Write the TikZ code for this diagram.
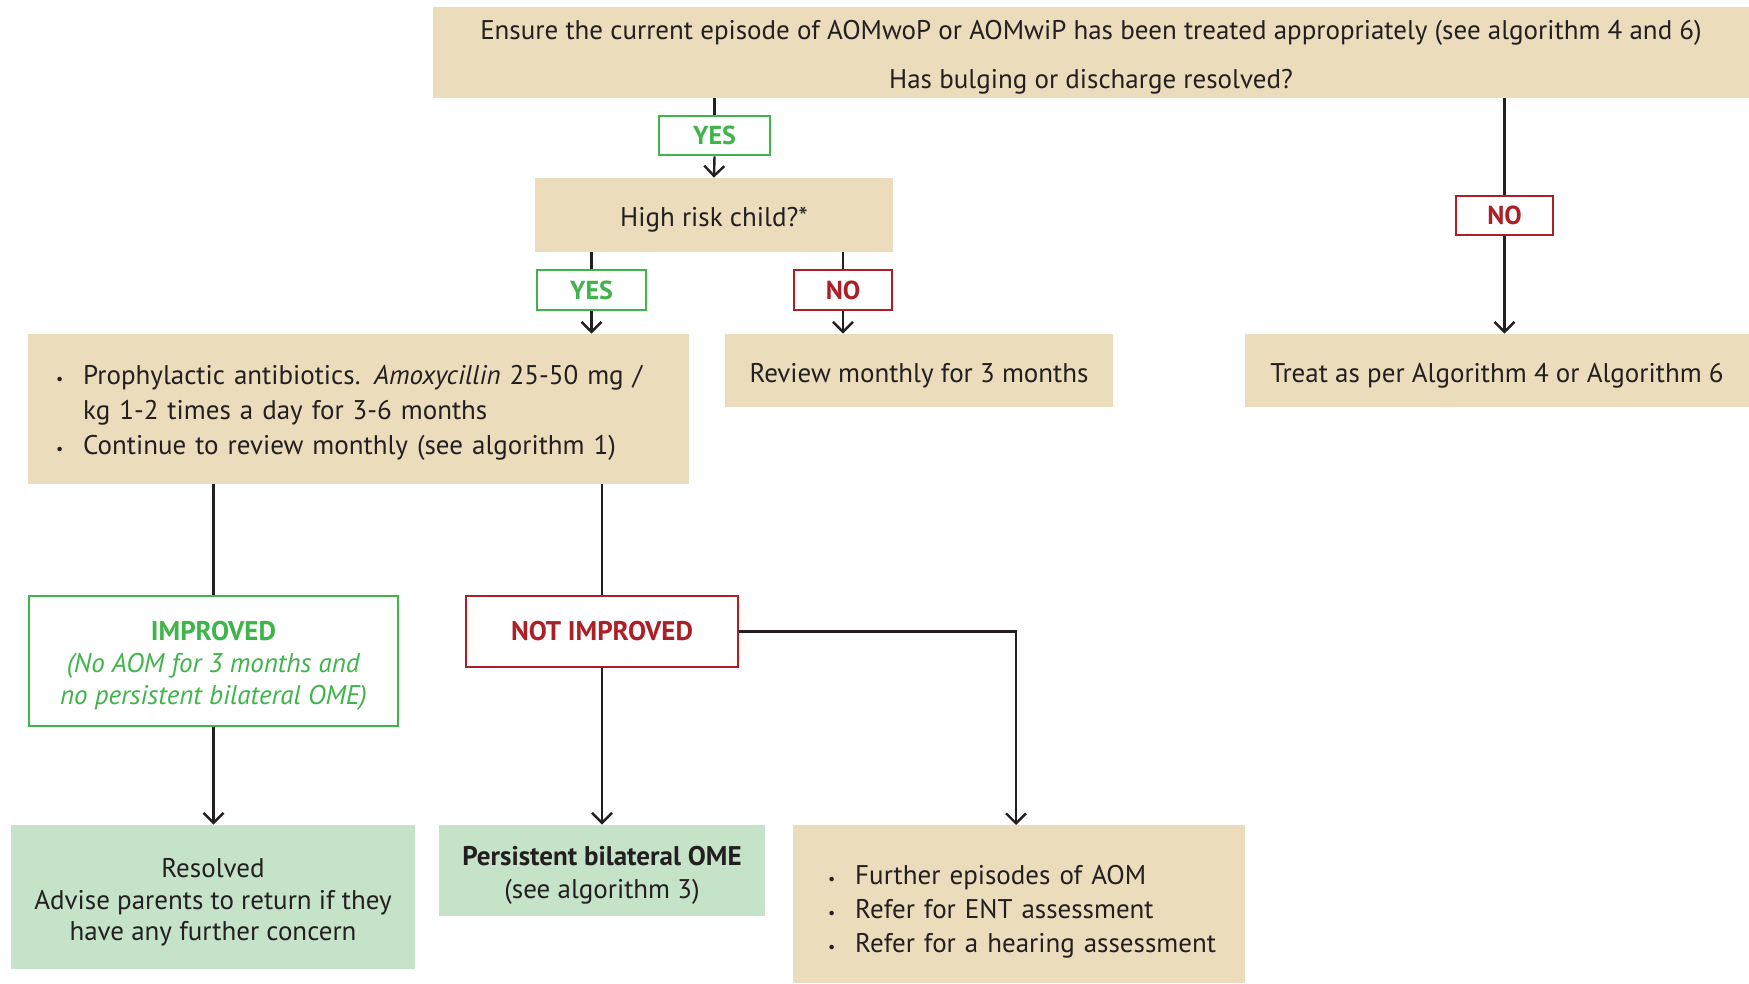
\documentclass[tikz,border=0pt]{standalone}
\usepackage{fontspec}
\setmainfont{PT Sans}
\usetikzlibrary{arrows.meta}
\definecolor{beige}{RGB}{235,220,187}
\definecolor{lgreen}{RGB}{197,227,200}
\definecolor{dgreen}{RGB}{62,180,74}
\definecolor{dred}{RGB}{170,32,38}
\definecolor{ink}{RGB}{35,31,32}
\newcommand{\bul}{{\footnotesize\textbullet}}
\newcommand{\lo}{\rule{0pt}{14.8pt}}
\begin{document}
\begin{tikzpicture}[x=0.5pt,y=-0.5pt,
  font=\fontsize{13.5}{16.2}\selectfont,
  box/.style={fill=beige, draw=none, text=ink, inner sep=0pt, align=center},
  gbox/.style={fill=lgreen, draw=none, text=ink, inner sep=0pt, align=center},
  ylab/.style={draw=dgreen, line width=1.4pt, fill=white, text=dgreen, font=\fontsize{13}{15}\selectfont\bfseries, inner sep=0pt},
  nlab/.style={draw=dred, line width=1.4pt, fill=white, text=dred, font=\fontsize{13}{15}\selectfont\bfseries, inner sep=0pt},
  conn/.style={draw=ink, line width=1.2pt},
  arr/.style={conn, -{Straight Barb[length=5pt,width=10pt,line width=1.2pt]}}]
\useasboundingbox (0,0) rectangle (1749,984);

\node[box, minimum width=658pt, minimum height=45.5pt] (top) at (1091,52.5)
  {\lo Ensure the current episode of AOMwoP or AOMwiP has been treated appropriately (see algorithm 4 and 6)\\[8.3pt]
   Has bulging or discharge resolved?};
\node[ylab, minimum width=55.5pt, minimum height=19.5pt] (yes1) at (714.5,135.5) {YES};
\node[box, minimum width=179pt, minimum height=37pt] (high) at (714,215) {\lo High risk child?*};
\node[ylab, minimum width=54.5pt, minimum height=20pt] (yes2) at (591.5,290) {YES};
\node[nlab, minimum width=49pt, minimum height=20pt] (no2) at (843,290) {NO};
\node[nlab, minimum width=48.5pt, minimum height=19.5pt] (no3) at (1504.5,215.5) {NO};

\node[box, minimum width=330.5pt, minimum height=75pt, text width=302.5pt, inner xsep=14pt, align=left,
      font=\fontsize{13.5}{17.5}\selectfont] (pro) at (358.5,409)
  {\raisebox{-1.7pt}[\height][\depth]{\begin{tabular}{@{}l@{\hspace{10pt}}l@{}}
   \bul & Prophylactic antibiotics. \textit{Amoxycillin} 25-50 mg /\\
        & kg 1-2 times a day for 3-6 months\\
   \bul & Continue to review monthly (see algorithm 1)
   \end{tabular}}};
\node[box, minimum width=194pt, minimum height=36.5pt] (rev) at (919,370.5) {\lo Review monthly for 3 months};
\node[box, minimum width=252pt, minimum height=36.5pt] (treat) at (1497,370.5) {\lo Treat as per Algorithm 4 or Algorithm 6};

\node[draw=dgreen, line width=1.4pt, fill=white, text=dgreen, inner sep=0pt, align=center,
      minimum width=184.5pt, minimum height=65pt, font=\fontsize{13.5}{16}\selectfont] (imp) at (213.5,661)
  {\lo\textbf{IMPROVED}\\ \textit{(No AOM for 3 months and}\\ \textit{no persistent bilateral OME)}};
\node[nlab, font=\fontsize{13.5}{15}\selectfont\bfseries, minimum width=136pt, minimum height=35.5pt] (notimp) at (602,631.5) {NOT IMPROVED};

\node[gbox, minimum width=202pt, minimum height=72pt, font=\fontsize{13.5}{15.75}\selectfont] (res) at (213,897)
  {\lo Resolved\\ Advise parents to return if they\\ have any further concern};
\node[gbox, minimum width=163pt, minimum height=45.5pt, font=\fontsize{13.5}{16.5}\selectfont] (pers) at (602,870.5)
  {\lo\textbf{Persistent bilateral OME}\\ (see algorithm 3)};
\node[box, minimum width=226pt, minimum height=79pt, text width=191pt, inner xsep=17.5pt, align=left,
      font=\fontsize{13.5}{17}\selectfont] (fur) at (1019,904)
  {\raisebox{-3.9pt}[\height][\depth]{\begin{tabular}{@{}l@{\hspace{10pt}}l@{}}
   \bul & Further episodes of AOM\\
   \bul & Refer for ENT assessment\\
   \bul & Refer for a hearing assessment
   \end{tabular}}};

\draw[conn] (yes1.north |- top.south) -- (yes1.north);
\draw[arr] (yes1.south) -- (high.north);
\draw[conn] (yes2.north |- high.south) -- (yes2.north);
\draw[arr] (yes2.south) -- (yes2.south |- pro.north);
\draw[conn] (no2.north |- high.south) -- (no2.north);
\draw[arr] (no2.south) -- (no2.south |- rev.north);
\draw[conn] (no3.north |- top.south) -- (no3.north);
\draw[arr] (no3.south) -- (no3.south |- treat.north);
\draw[conn] (imp.north |- pro.south) -- (imp.north);
\draw[conn] (notimp.north |- pro.south) -- (notimp.north);
\draw[arr] (imp.south) -- (imp.south |- res.north);
\draw[arr] (notimp.south) -- (notimp.south |- pers.north);
\coordinate (furin) at (1016,825);
\draw[arr] (notimp.east) -| (furin);
\end{tikzpicture}
\end{document}
